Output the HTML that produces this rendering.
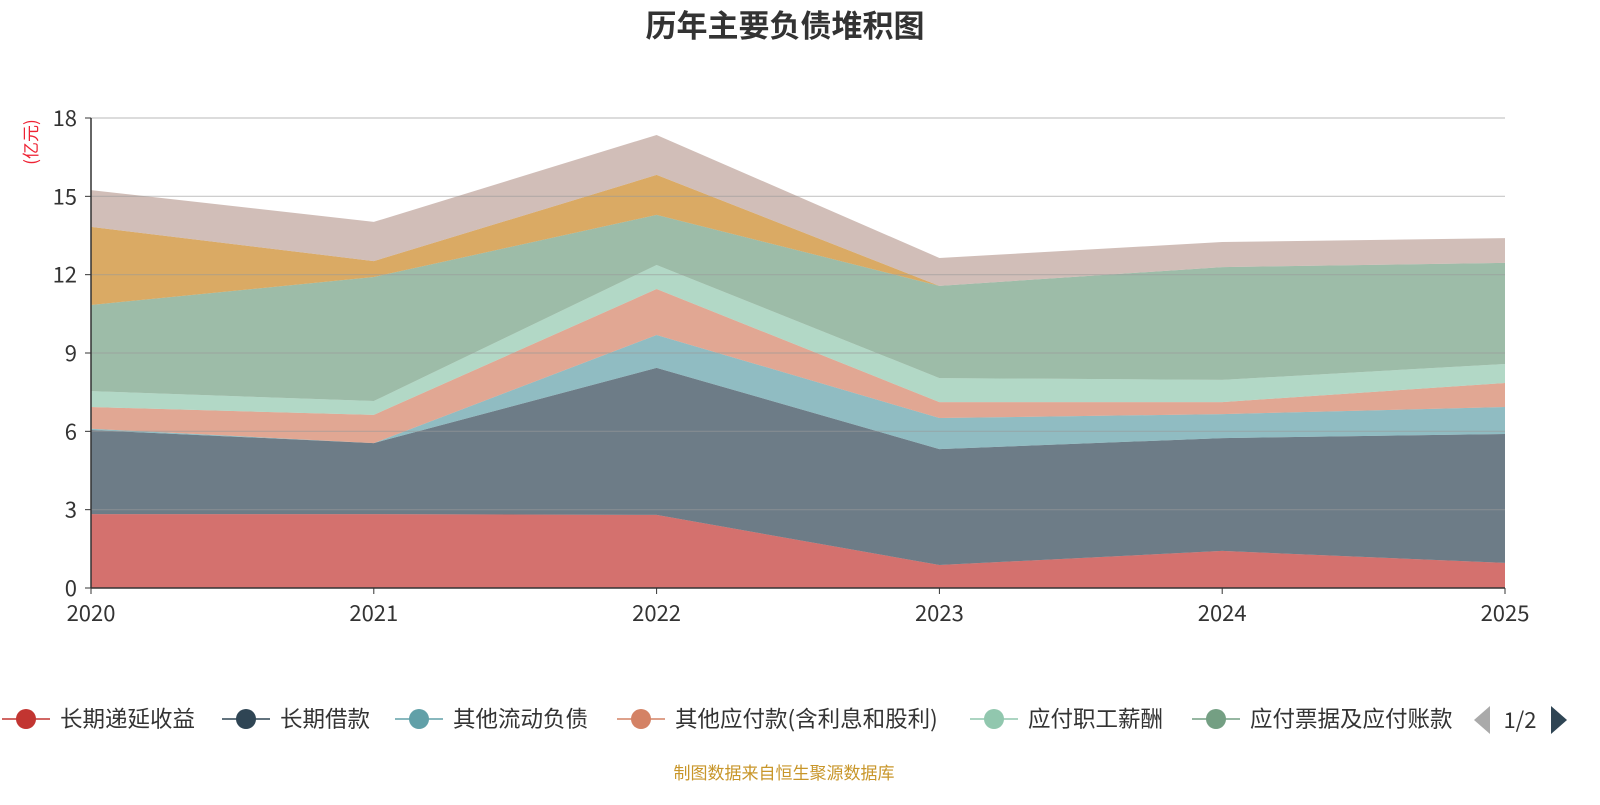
<!DOCTYPE html>
<html><head><meta charset="utf-8">
<style>
body{margin:0;background:#fff;width:1600px;height:800px;overflow:hidden;font-family:"Noto Sans CJK SC","Liberation Sans",sans-serif;}
</style></head>
<body>
<svg id="chart" width="1600" height="800" xmlns="http://www.w3.org/2000/svg" font-family="Noto Sans CJK SC, Liberation Sans, sans-serif">
<text x="785" y="37" text-anchor="middle" font-size="31" font-weight="bold" fill="#333">历年主要负债堆积图</text>
<text transform="translate(37,142) rotate(-90)" text-anchor="middle" font-size="17" fill="#e23">(亿元)</text>
<g id="areas"></g>
<g id="grid"></g>
<g id="axes"></g>
<g id="legend"></g>
<text x="784" y="779" text-anchor="middle" font-size="17" fill="#c8962a">制图数据来自恒生聚源数据库</text>
</svg>
<script>
const years=["2020","2021","2022","2023","2024","2025"];
const seriesNames=["长期递延收益","长期借款","其他流动负债","其他应付款(含利息和股利)","应付职工薪酬","应付票据及应付账款","合同负债","应交税费"];
const s1=[2.83,2.83,2.80,0.88,1.42,0.96];
const s2=[3.22,2.72,5.63,4.44,4.32,4.94];
const s3=[0.05,0.00,1.26,1.19,0.92,1.03];
const s4=[0.83,1.08,1.76,0.61,0.46,0.92];
const s5=[0.61,0.53,0.92,0.92,0.85,0.73];
const s6=[3.30,4.75,1.92,3.53,4.32,3.87];
const s7=[2.99,0.61,1.53,0.00,0.00,0.00];
const s8=[1.41,1.50,1.53,1.07,0.96,0.95];
const yTicks=[0,3,6,9,12,15,18];
const series=[s1,s2,s3,s4,s5,s6,s7,s8];
const colors=["#c23531","#2f4554","#61a0a8","#d48265","#91c7ae","#749f83","#ca8622","#bda29a"];
const NS="http://www.w3.org/2000/svg";
const X0=91,X1=1505,Y0=588,Y1=118;
const xs=i=>X0+(X1-X0)*i/(years.length-1);
const ys=v=>Y0-(Y0-Y1)*v/18;
function mk(tag,attrs,parent){const e=document.createElementNS(NS,tag);for(const k in attrs)e.setAttribute(k,attrs[k]);parent.appendChild(e);return e;}
const areas=document.getElementById('areas');
let base=years.map(()=>0);
series.forEach((s,k)=>{
  const top=base.map((b,i)=>b+s[i]);
  let d="M"+years.map((_,i)=>xs(i)+","+ys(top[i])).join("L");
  for(let i=years.length-1;i>=0;i--) d+="L"+xs(i)+","+ys(base[i]);
  d+="Z";
  const p=mk('path',{d:d,fill:colors[k],'fill-opacity':0.7,stroke:'none'},areas);
  
  
  base=top;
});
const grid=document.getElementById('grid');
const axes=document.getElementById('axes');
yTicks.forEach(t=>{
  if(t>0){const l=mk('line',{x1:X0,x2:X1,y1:ys(t),y2:ys(t),stroke:'#999','stroke-opacity':0.55,'stroke-width':1.2},grid);
  
  }
  mk('line',{x1:X0-6,x2:X0,y1:ys(t),y2:ys(t),stroke:'#333'},axes);
  const tx=mk('text',{x:X0-14,y:ys(t)+8,'text-anchor':'end','font-size':22,fill:'#333'},axes);
  tx.textContent=t;
  
  
});
mk('line',{x1:X0,x2:X0,y1:Y1,y2:Y0,stroke:'#333','stroke-width':1.5},axes);
mk('line',{x1:X0,x2:X1,y1:Y0,y2:Y0,stroke:'#333','stroke-width':1.5},axes);
years.forEach((y,i)=>{
  mk('line',{x1:xs(i),x2:xs(i),y1:Y0,y2:Y0+6,stroke:'#333'},axes);
  const tx=mk('text',{x:xs(i),y:621,'text-anchor':'middle','font-size':22,fill:'#333'},axes);
  tx.textContent=y;
  
  
});
const legend=document.getElementById('legend');
const lx=[2,222,395,617,970,1192];
for(let k=0;k<6;k++){
  const g=mk('g',{},legend);
  
  
  const x=lx[k];
  mk('line',{x1:x,x2:x+48,y1:719,y2:719,stroke:colors[k],'stroke-width':1.5},g);
  mk('circle',{cx:x+24,cy:719,r:10,fill:colors[k]},g);
  const t=mk('text',{x:x+58,y:727,'font-size':22.5,fill:'#333'},g);
  t.textContent=seriesNames[k];
}
mk('rect',{x:1455,y:700,width:145,height:40,fill:'#fff'},legend);
const pl=mk('path',{d:'M1490,706 L1474,720 L1490,734 Z',fill:'#aaa'},legend);


const pt=mk('text',{x:1520,y:728,'text-anchor':'middle','font-size':22,fill:'#333'},legend);
pt.textContent="1/2";


const pn=mk('path',{d:'M1551,706 L1567,720 L1551,734 Z',fill:'#2f4554'},legend);


</script>
</body></html>
